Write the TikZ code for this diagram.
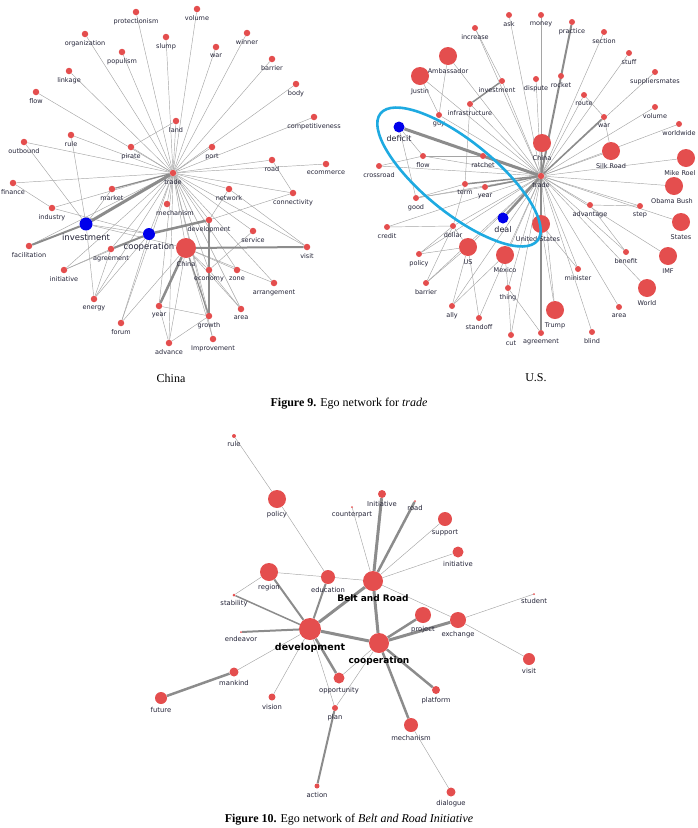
\documentclass[tikz,border=0pt]{standalone}
\usepackage{fontspec}
\setmainfont{Liberation Serif}
\newfontfamily\labfont{DejaVu Sans}
\usetikzlibrary{calc}
\definecolor{dotred}{RGB}{228,78,78}
\definecolor{dotblue}{RGB}{0,0,235}
\definecolor{edgegray}{RGB}{165,165,165}
\definecolor{thickgray}{RGB}{140,140,140}
\definecolor{ringblue}{RGB}{30,170,225}
\definecolor{labcol}{RGB}{35,35,55}
\pgfdeclarelayer{bg}
\pgfsetlayers{bg,main}
\tikzset{
 dot/.style={circle, fill=dotred, draw=none, inner sep=0pt},
 bdot/.style={circle, fill=dotblue, draw=none, inner sep=0pt},
 lab/.style={font=\labfont\fontsize{6.5}{7.5}\selectfont, text=labcol, inner sep=0.5pt},
 blab/.style={font=\labfont\fontsize{8.5}{10}\selectfont, text=labcol, inner sep=0.5pt},
 clab/.style={font=\labfont\fontsize{6.8}{8}\selectfont, text=labcol, inner sep=0.5pt},
 cbold/.style={font=\labfont\bfseries\fontsize{9.5}{11}\selectfont, text=black, inner sep=0.5pt},
 edge/.style={draw=edgegray, line width=0.45pt},
 thk/.style={draw=thickgray, line width=#1},
 captxt/.style={font=\fontsize{12}{14}\selectfont, inner sep=0pt},
}
\newcommand\V[6][lab]{\node[dot, minimum size=#5pt] (#2) at (#3,#4) {};
 \node[#1, anchor=north] (#2-t) at ([yshift=-2.5pt]#2.south) {#6};}
\newcommand\VB[6][blab]{\node[bdot, minimum size=#5pt] (#2) at (#3,#4) {};
 \node[#1, anchor=north] (#2-t) at ([yshift=-2.5pt]#2.south) {#6};}
\begin{document}
\begin{tikzpicture}[x=1pt,y=-1pt]
\useasboundingbox (0,0) rectangle (698,828);
% ---------------- China network ----------------
\V{a-trade}{173}{173}{6.5}{trade}
\V{a-protectionism}{136}{12}{6.5}{protectionism}
\V{a-slump}{166}{37}{6.5}{slump}
\V{a-organization}{85}{34}{6.5}{organization}
\V{a-populism}{122}{52}{6.5}{populism}
\V{a-linkage}{69}{71}{6.5}{linkage}
\V{a-flow}{36}{92}{6.5}{flow}
\V{a-land}{176}{121}{6.5}{land}
\V{a-rule}{71}{135}{6.5}{rule}
\V{a-outbound}{24}{142}{6.5}{outbound}
\V{a-pirate}{131}{147}{6.5}{pirate}
\V{a-volume}{197}{9}{6.5}{volume}
\V{a-winner}{247}{33}{6.5}{winner}
\V{a-war}{216}{47}{6.5}{war}
\V{a-barrier}{272}{59}{6.5}{barrier}
\V{a-body}{296}{84}{6.5}{body}
\V{a-competitiveness}{314}{117}{6.5}{competitiveness}
\V{a-port}{212}{147}{6.5}{port}
\V{a-road}{272}{160}{6.5}{road}
\V{a-ecommerce}{326}{164}{6.5}{ecommerce}
\V{a-finance}{13}{183}{6.5}{finance}
\V{a-market}{112}{189}{6.5}{market}
\V{a-industry}{52}{208}{6.5}{industry}
\VB{a-investment}{86}{224}{13}{investment}
\VB{a-cooperation}{149}{234}{12}{cooperation}
\V[lab,xshift=8pt]{a-mechanism}{167}{204}{6.5}{mechanism}
\V{a-facilitation}{29}{246}{6.5}{facilitation}
\V{a-agreement}{111}{249}{6.5}{agreement}
\V{a-initiative}{64}{270}{6.5}{initiative}
\V{a-energy}{94}{299}{6.5}{energy}
\V{a-year}{159}{306}{6.5}{year}
\V{a-forum}{121}{323}{6.5}{forum}
\V{a-advance}{169}{343}{6.5}{advance}
\V{a-network}{229}{189}{6.5}{network}
\V{a-connectivity}{293}{193}{6.5}{connectivity}
\V{a-development}{209}{220}{6.5}{development}
\V{a-service}{253}{231}{6.5}{service}
\V{a-China}{186}{248}{20}{China}
\V{a-visit}{307}{247}{6.5}{visit}
\V{a-economy}{209}{270}{6.5}{economy}
\V{a-zone}{237}{270}{6.5}{zone}
\V{a-arrangement}{274}{283}{6.5}{arrangement}
\V{a-area}{241}{309}{6.5}{area}
\V{a-growth}{209}{316}{6.5}{growth}
\V{a-improvement}{213}{339}{6.5}{Improvement}
\begin{pgfonlayer}{bg}
\foreach \n in {protectionism,slump,organization,populism,linkage,flow,land,rule,outbound,pirate,volume,winner,war,barrier,body,competitiveness,port,road,ecommerce,finance,industry,cooperation,mechanism,facilitation,agreement,initiative,energy,year,forum,advance,network,connectivity,development,service,China,visit,economy,zone,arrangement,area,growth,improvement}
  \draw[edge] (a-trade) -- (a-\n);
\draw[edge] (a-land) -- (a-pirate);
\draw[edge] (a-finance) -- (a-industry);
\draw[edge] (a-industry) -- (a-cooperation);
\draw[edge] (a-investment) -- (a-cooperation);
\draw[edge] (a-investment) -- (a-energy);
\draw[edge] (a-investment) -- (a-China);
\draw[edge] (a-cooperation) -- (a-energy);
\draw[edge] (a-cooperation) -- (a-forum);
\draw[edge] (a-cooperation) -- (a-initiative);
\draw[edge] (a-agreement) -- (a-initiative);
\draw[edge] (a-agreement) -- (a-energy);
\draw[edge] (a-China) -- (a-economy);
\draw[edge] (a-China) -- (a-zone);
\draw[edge] (a-China) -- (a-arrangement);
\draw[edge] (a-China) -- (a-area);
\draw[edge] (a-China) -- (a-advance);
\draw[edge] (a-China) -- (a-improvement);
\draw[edge] (a-China) -- (a-forum);
\draw[edge] (a-development) -- (a-network);
\draw[edge] (a-development) -- (a-connectivity);
\draw[edge] (a-road) -- (a-connectivity);
\draw[edge] (a-network) -- (a-visit);
\draw[edge] (a-economy) -- (a-area);
\draw[edge] (a-growth) -- (a-advance);
\draw[edge] (a-year) -- (a-advance);
\draw[edge] (a-year) -- (a-growth);
\draw[edge] (a-service) -- (a-economy);
\draw[edge] (a-outbound) -- (a-investment);
\draw[edge] (a-rule) -- (a-investment);
\draw[edge] (a-market) -- (a-investment);
\draw[thk=3pt] (a-investment) -- (a-trade);
\draw[thk=2pt] (a-facilitation) -- (a-investment);
\draw[thk=2pt] (a-agreement) -- (a-cooperation);
\draw[thk=2.5pt] (a-cooperation) -- (a-development);
\draw[thk=2.5pt] (a-China) -- (a-year);
\draw[thk=2pt] (a-China) -- (a-visit);
\draw[thk=1.5pt] (a-development) -- (a-growth);
\draw[thk=1.2pt] (a-China) -- (a-growth);
\draw[thk=1.2pt] (a-trade) -- (a-market);
\end{pgfonlayer}
% ---------------- U.S. network ----------------
\V{b-trade}{541}{176}{6.5}{trade}
\V{b-ask}{509}{15}{6}{ask}
\V{b-increase}{475}{28}{6}{increase}
\V{b-Ambassador}{448}{56}{18}{Ambassador}
\V{b-Justin}{420}{76}{18}{Justin}
\V[lab,xshift=-5pt]{b-investment}{502}{81}{6}{investment}
\V{b-infrastructure}{470}{104}{6}{infrastructure}
\V{b-guy}{439}{115}{6}{guy}
\VB[blab,font=\labfont\fontsize{8}{9}\selectfont]{b-deficit}{399}{127}{11}{deficit}
\V{b-flow}{423}{156}{6}{flow}
\V{b-ratchet}{483}{156}{6}{ratchet}
\V{b-crossroad}{379}{166}{6}{crossroad}
\V{b-money}{541}{15}{6}{money}
\V{b-practice}{572}{22}{6}{practice}
\V{b-section}{604}{32}{6}{section}
\V{b-stuff}{629}{53}{6}{stuff}
\V{b-supplier}{655}{72}{6}{suppliersmates}
\V{b-dispute}{536}{79}{6}{dispute}
\V{b-rocket}{561}{76}{6}{rocket}
\V{b-route}{584}{95}{6}{route}
\V{b-volume}{655}{107}{6}{volume}
\V{b-war}{604}{117}{6}{war}
\V{b-worldwide}{679}{124}{6}{worldwide}
\V{b-China}{542}{143}{18}{China}
\V{b-SilkRoad}{611}{151}{18}{Silk Road}
\V[lab,xshift=-6pt]{b-Mike}{686}{158}{18}{Mike Roel}
\V{b-term}{465}{184}{6}{term}
\V{b-year}{485}{187}{6}{year}
\V{b-good}{416}{198}{6}{good}
\VB[blab,font=\labfont\fontsize{8}{9}\selectfont]{b-deal}{503}{218}{11}{deal}
\V{b-credit}{387}{227}{6}{credit}
\V{b-dollar}{453}{226}{6}{dollar}
\V{b-US}{468}{247}{18}{US}
\V{b-Mexico}{505}{255}{18}{Mexico}
\V{b-policy}{419}{254}{6}{policy}
\V{b-barrier}{426}{283}{6}{barrier}
\V{b-thing}{508}{288}{6}{thing}
\V{b-ally}{452}{306}{6}{ally}
\V{b-standoff}{479}{318}{6}{standoff}
\V{b-cut}{511}{335}{6}{cut}
\V[lab,xshift=-2pt]{b-ObamaBush}{674}{186}{18}{Obama Bush}
\V{b-advantage}{590}{205}{6}{advantage}
\V{b-step}{640}{206}{6}{step}
\V[lab,xshift=-3pt]{b-UnitedStates}{541}{224}{18}{United States}
\V{b-States}{681}{222}{18}{States}
\V{b-benefit}{626}{252}{6}{benefit}
\V{b-IMF}{668}{256}{18}{IMF}
\V{b-minister}{578}{269}{6}{minister}
\V{b-World}{647}{288}{18}{World}
\V{b-Trump}{555}{310}{18}{Trump}
\V{b-area}{619}{307}{6}{area}
\V{b-agreement}{541}{333}{6}{agreement}
\V{b-blind}{592}{332}{6}{blind}
\draw[ringblue, line width=2.6pt, rotate around={-39:(459,177)}] (459,177) ellipse (101 and 36);
\begin{pgfonlayer}{bg}
\foreach \n in {ask,increase,Ambassador,Justin,investment,infrastructure,guy,flow,crossroad,money,section,stuff,supplier,dispute,rocket,route,volume,worldwide,SilkRoad,Mike,good,credit,dollar,US,Mexico,policy,barrier,thing,ally,standoff,cut,ObamaBush,advantage,step,UnitedStates,States,benefit,IMF,minister,World,Trump,area,blind}
  \draw[edge] (b-trade) -- (b-\n);
\draw[edge] (b-Ambassador) -- (b-guy);
\draw[edge] (b-Justin) -- (b-guy);
\draw[edge] (b-increase) -- (b-investment);
\draw[edge] (b-crossroad) -- (b-flow);
\draw[edge] (b-flow) -- (b-ratchet);
\draw[edge] (b-good) -- (b-term);
\draw[edge] (b-good) -- (b-year);
\draw[edge] (b-credit) -- (b-dollar);
\draw[edge] (b-dollar) -- (b-term);
\draw[edge] (b-dollar) -- (b-policy);
\draw[edge] (b-dollar) -- (b-barrier);
\draw[edge] (b-US) -- (b-policy);
\draw[edge] (b-US) -- (b-barrier);
\draw[edge] (b-US) -- (b-ally);
\draw[edge] (b-US) -- (b-standoff);
\draw[edge] (b-US) -- (b-dollar);
\draw[edge] (b-Mexico) -- (b-ally);
\draw[edge] (b-Mexico) -- (b-thing);
\draw[edge] (b-thing) -- (b-cut);
\draw[edge] (b-thing) -- (b-agreement);
\draw[edge] (b-UnitedStates) -- (b-minister);
\draw[edge] (b-UnitedStates) -- (b-Trump);
\draw[edge] (b-advantage) -- (b-step);
\draw[edge] (b-advantage) -- (b-benefit);
\draw[edge] (b-SilkRoad) -- (b-war);
\draw[edge] (b-war) -- (b-route);
\draw[edge] (b-deficit) -- (b-flow);
\draw[edge] (b-deficit) -- (b-good);
\draw[edge] (b-infrastructure) -- (b-term);
\draw[thk=1.5pt] (b-investment) -- (b-infrastructure);
\draw[thk=3pt] (b-deficit) -- (b-trade);
\draw[thk=2pt] (b-practice) -- (b-trade);
\draw[thk=2.5pt] (b-trade) -- (b-agreement);
\draw[thk=2.5pt] (b-deal) -- (b-trade);
\draw[thk=2pt] (b-ratchet) -- (b-trade);
\draw[thk=1.5pt] (b-term) -- (b-trade);
\draw[thk=1.5pt] (b-year) -- (b-trade);
\draw[thk=1.5pt] (b-China) -- (b-trade);
\draw[thk=1.5pt] (b-war) -- (b-trade);
\end{pgfonlayer}
% ---------------- captions 9 ----------------
\node[captxt] (capchina) at (171,378) {China};
\node[captxt] (capus) at (536,378) {U.S.};
\node[captxt] (cap9) at (349,404) {\textbf{Figure 9.} Ego network for \textit{trade}};
% ---------------- Belt and Road network ----------------
\V[clab]{c-rule}{234}{436}{4}{rule}
\V[clab]{c-policy}{277}{499}{18}{policy}
\V[clab]{c-region}{269}{572}{18}{region}
\V[clab]{c-education}{328}{577}{14}{education}
\V[clab]{c-stability}{234}{595}{3}{stability}
\V[clab]{c-counterpart}{352}{507}{2}{counterpart}
\V[clab]{c-Initiative}{382}{494}{8}{Initiative}
\V[clab]{c-road}{415}{501}{2}{road}
\V[clab]{c-support}{445}{519}{14}{support}
\V[clab]{c-initiative}{458}{552}{11}{initiative}
\V[cbold,font=\labfont\bfseries\fontsize{9}{11}\selectfont]{c-BR}{373}{581}{20}{Belt and Road}
\V[clab]{c-project}{423}{615}{16}{project}
\V[clab]{c-exchange}{458}{620}{16}{exchange}
\V[clab]{c-student}{534}{594}{2}{student}
\V[cbold]{c-development}{310}{629}{22}{development}
\V[clab]{c-endeavor}{241}{632}{2}{endeavor}
\V[clab]{c-mankind}{234}{672}{9}{mankind}
\V[clab]{c-future}{161}{698}{12}{future}
\V[clab]{c-vision}{272}{697}{7}{vision}
\V[clab]{c-opportunity}{339}{678}{11}{opportunity}
\V[clab]{c-plan}{335}{708}{6}{plan}
\V[clab]{c-action}{317}{786}{5}{action}
\V[cbold,font=\labfont\bfseries\fontsize{9}{11}\selectfont]{c-cooperation}{379}{643}{20}{cooperation}
\V[clab]{c-visit}{529}{659}{12}{visit}
\V[clab]{c-platform}{436}{690}{8}{platform}
\V[clab]{c-mechanism}{411}{725}{14}{mechanism}
\V[clab]{c-dialogue}{451}{792}{9}{dialogue}
\begin{pgfonlayer}{bg}
\draw[edge] (c-rule) -- (c-policy);
\draw[edge] (c-policy) -- (c-education);
\draw[edge] (c-region) -- (c-education);
\draw[edge] (c-stability) -- (c-region);
\draw[edge] (c-education) -- (c-BR);
\draw[edge] (c-counterpart) -- (c-BR);
\draw[edge] (c-support) -- (c-BR);
\draw[edge] (c-initiative) -- (c-BR);
\draw[edge] (c-BR) -- (c-exchange);
\draw[edge] (c-exchange) -- (c-student);
\draw[edge] (c-exchange) -- (c-visit);
\draw[edge] (c-development) -- (c-mankind);
\draw[edge] (c-development) -- (c-vision);
\draw[edge] (c-development) -- (c-plan);
\draw[edge] (c-cooperation) -- (c-opportunity);
\draw[edge] (c-cooperation) -- (c-plan);
\draw[edge] (c-mechanism) -- (c-dialogue);
\draw[thk=2pt] (c-region) -- (c-development);
\draw[thk=1.5pt] (c-stability) -- (c-development);
\draw[thk=2pt] (c-education) -- (c-development);
\draw[thk=3pt] (c-Initiative) -- (c-BR);
\draw[thk=2.5pt] (c-road) -- (c-BR);
\draw[thk=3pt] (c-BR) -- (c-development);
\draw[thk=3pt] (c-BR) -- (c-cooperation);
\draw[thk=2.5pt] (c-cooperation) -- (c-project);
\draw[thk=3pt] (c-cooperation) -- (c-exchange);
\draw[thk=2pt] (c-development) -- (c-endeavor);
\draw[thk=2.5pt] (c-mankind) -- (c-future);
\draw[thk=2.5pt] (c-development) -- (c-opportunity);
\draw[thk=3pt] (c-development) -- (c-cooperation);
\draw[thk=2pt] (c-plan) -- (c-action);
\draw[thk=2.5pt] (c-cooperation) -- (c-platform);
\draw[thk=2.5pt] (c-cooperation) -- (c-mechanism);
\end{pgfonlayer}
\node[captxt] (cap10) at (349,820) {\textbf{Figure 10.} Ego network of \textit{Belt and Road Initiative}};
\end{tikzpicture}
\end{document}
